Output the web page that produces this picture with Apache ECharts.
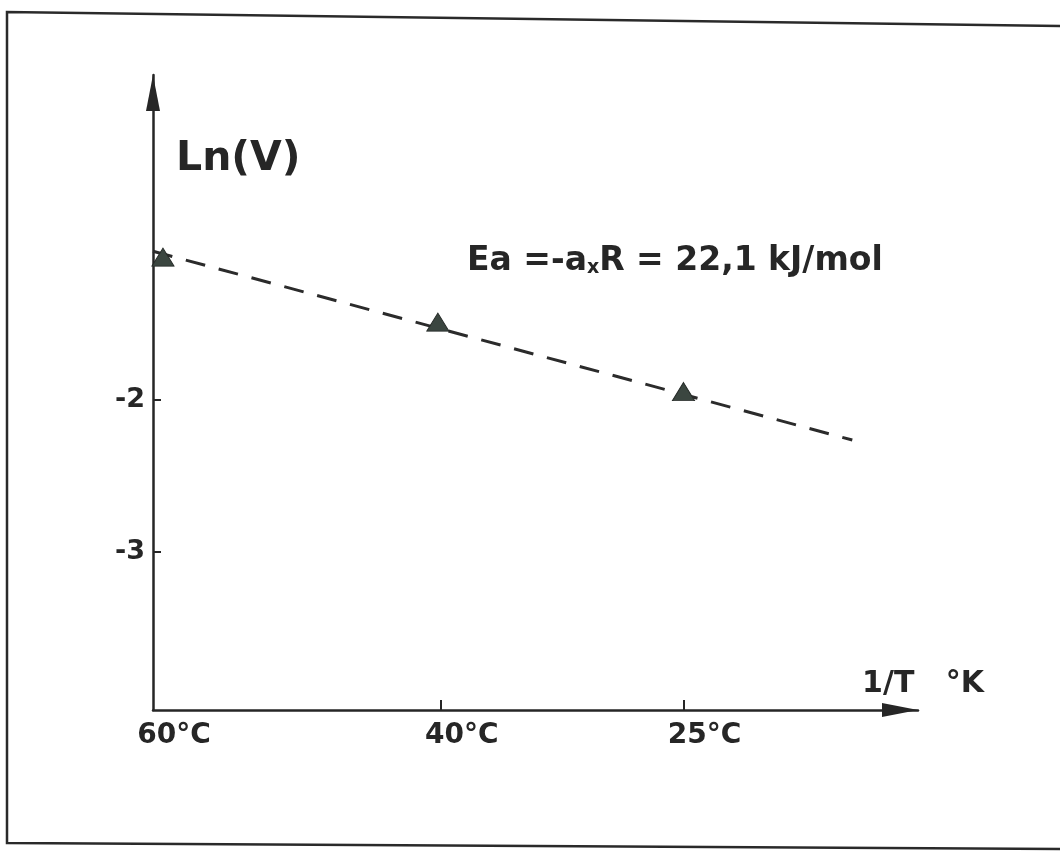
<!DOCTYPE html>
<html>
<head>
<meta charset="utf-8">
<script src="https://cdn.jsdelivr.net/npm/echarts@6/dist/echarts.min.js"></script>
<style>
html,body{margin:0;padding:0;background:#fff;}
#chart{width:1060px;height:852px;}
</style>
</head>
<body>
<div id="chart"></div>
<script>
// x values: 1000/T (K^-1 x 1000)
const temperatures = ['60°C', '40°C', '25°C'];
const tickValuesX = [3.002, 3.193, 3.354];
const pointX = [3.0086, 3.191, 3.354];
const pointY = [-1.059, -1.487, -1.944];
const fitX = [3.002, 3.466];
const fitY = [-1.020, -2.263];
const tickValuesY = [-2, -3];
const tickLabelsY = ['-2', '-3'];
const xRange = [3.002, 3.5096];
const yRange = [-4.04, 0.14];

const ink = '#262626';
const font = '"DejaVu Sans", Verdana, sans-serif';

const chart = echarts.init(document.getElementById('chart'), null, {renderer: 'canvas'});

function nearestIndex(arr, v) {
  let best = 0;
  for (let i = 1; i < arr.length; i++) {
    if (Math.abs(arr[i] - v) < Math.abs(arr[best] - v)) best = i;
  }
  return best;
}

const option = {
  backgroundColor: '#ffffff',
  animation: false,
  grid: {left: 153, right: 142, top: 75, bottom: 142, containLabel: false},
  xAxis: {
    type: 'value',
    min: xRange[0],
    max: xRange[1],
    name: '1/T   °K',
    nameLocation: 'end',
    nameGap: 5,
    nameTextStyle: {
      fontFamily: font, fontSize: 30, fontWeight: 'bold', color: ink,
      align: 'center', verticalAlign: 'bottom', padding: [0, 0, 11, 0]
    },
    axisLine: {
      show: true, onZero: false,
      symbol: ['none', 'triangle'], symbolSize: [14, 36], symbolOffset: [0, -18],
      lineStyle: {color: ink, width: 2.5}
    },
    axisTick: {show: true, inside: true, length: 10, customValues: tickValuesX.slice(1),
      lineStyle: {color: ink, width: 2}},
    axisLabel: {
      show: true, customValues: tickValuesX,
      formatter: function (v) { return temperatures[nearestIndex(tickValuesX, v)]; },
      fontFamily: font, fontSize: 28, fontWeight: 'bold', color: ink,
      margin: 12, padding: [0, 0, 0, 42]
    },
    splitLine: {show: false}
  },
  yAxis: {
    type: 'value',
    min: yRange[0],
    max: yRange[1],
    name: 'Ln(V)',
    nameLocation: 'end',
    nameGap: -64,
    nameTextStyle: {
      fontFamily: font, fontSize: 41, fontWeight: 'bold', color: ink,
      align: 'left', verticalAlign: 'top', padding: [0, 0, 0, 23]
    },
    axisLine: {
      show: true, onZero: false,
      symbol: ['none', 'triangle'], symbolSize: [14, 36], symbolOffset: [0, -18],
      lineStyle: {color: ink, width: 2.5}
    },
    axisTick: {show: true, inside: true, length: 8, customValues: tickValuesY,
      lineStyle: {color: ink, width: 2}},
    axisLabel: {
      show: true, customValues: tickValuesY,
      formatter: function (v) { return tickLabelsY[nearestIndex(tickValuesY, v)]; },
      fontFamily: font, fontSize: 27, fontWeight: 'bold', color: ink, margin: 8
    },
    splitLine: {show: false}
  },
  series: [
    {
      type: 'line',
      name: 'fit',
      data: fitX.map((x, i) => [x, fitY[i]]),
      showSymbol: false,
      symbol: 'none',
      lineStyle: {color: '#2b2b2b', width: 3, type: [20, 14]},
      z: 2
    },
    {
      type: 'scatter',
      name: 'mesures',
      data: pointX.map((x, i) => [x, pointY[i]]),
      symbol: 'triangle',
      symbolSize: [22, 18],
      itemStyle: {color: '#3b4640', borderColor: '#262b28', borderWidth: 1, opacity: 1},
      z: 3
    }
  ],
  graphic: [
    {
      type: 'polyline',
      shape: {points: [[1062, 26], [7, 12], [7, 843], [1062, 849]]},
      style: {stroke: '#2a2a2a', lineWidth: 2.5, fill: null},
      silent: true
    },
    {
      type: 'text',
      left: 467,
      top: 245,
      style: {
        text: 'Ea =-a{s|x}R = 22,1 kJ/mol',
        fontFamily: font, fontSize: 33, fontWeight: 'bold', fill: ink,
        rich: {s: {fontFamily: font, fontSize: 19, fontWeight: 'bold', fill: ink, verticalAlign: 'bottom'}}
      }
    }
  ]
};
chart.setOption(option);
</script>
</body>
</html>
